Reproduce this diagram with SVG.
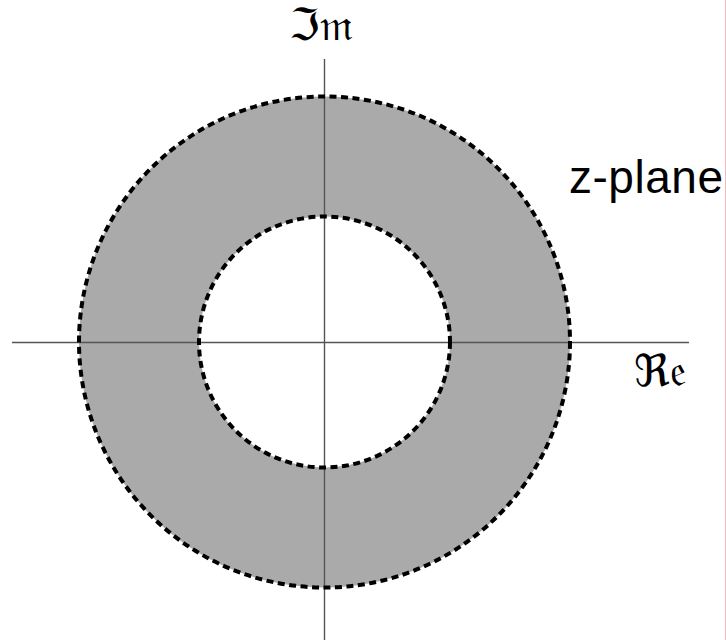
<svg xmlns="http://www.w3.org/2000/svg" width="726" height="640" viewBox="0 0 726 640">
<style>
.axis{stroke:#555;stroke-width:1.4;fill:none}
.ring{stroke:#000;stroke-width:4;stroke-dasharray:7 4.5;}
.frak{font-family:"DejaVu Serif","DejaVu Sans",serif;font-size:44px;fill:#000}
.lbl{font-family:"Liberation Sans",Arial,sans-serif;font-size:46px;fill:#000}
</style>
<rect width="726" height="640" fill="#fff"/>
<line x1="725.5" y1="0" x2="725.5" y2="640" stroke="#f4b8b8" stroke-width="1"/>
<g id="annulus">
<path d="M79,342 a245.5,245.5 0 1,0 491,0 a245.5,245.5 0 1,0 -491,0 Z M199,342 a125.5,125.5 0 1,1 251,0 a125.5,125.5 0 1,1 -251,0 Z" fill="#aaaaaa" fill-rule="evenodd"/>
</g>
<g id="axes">
<line class="axis" x1="12" y1="342.5" x2="689" y2="342.5"/>
<line class="axis" x1="324.5" y1="59" x2="324.5" y2="640"/>
</g>
<g id="circles">
<circle class="ring" cx="324.5" cy="342" r="245.5" fill="none"/>
<circle class="ring" cx="324.5" cy="342" r="125.5" fill="none"/>
</g>
<g id="labels">
<text class="frak" x="289" y="40">ℑ𝔪</text>
<text class="frak" x="634" y="386">ℜ𝔢</text>
<text class="lbl" x="569" y="193" textLength="154">z-plane</text>
</g>
</svg>
